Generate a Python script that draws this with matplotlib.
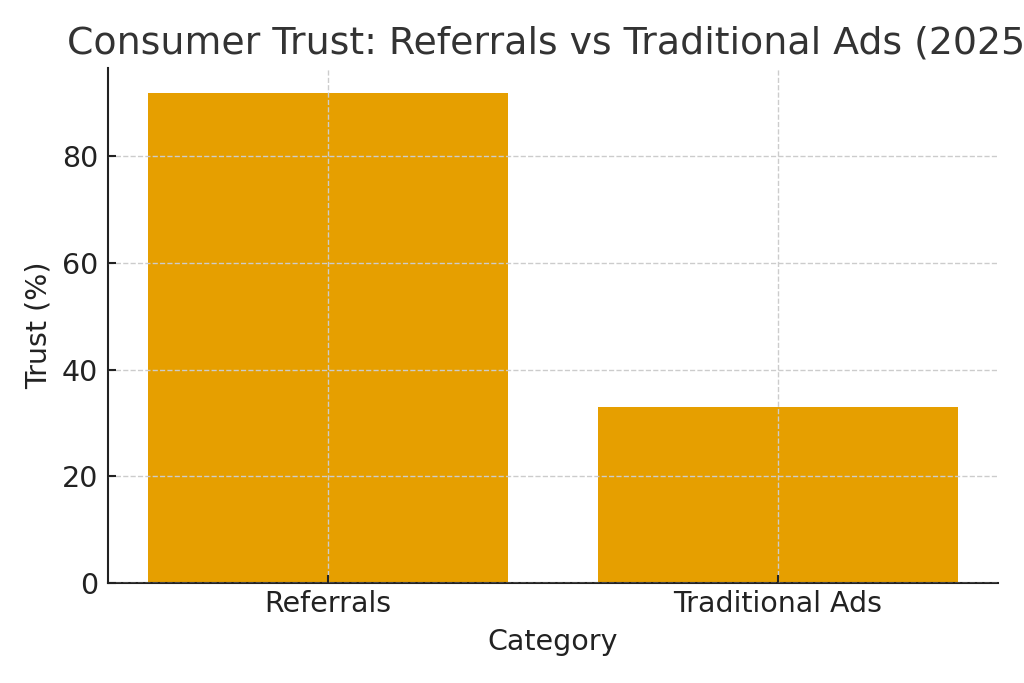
import matplotlib
matplotlib.use("Agg")
import matplotlib.pyplot as plt

categories = ["Referrals", "Traditional Ads"]
trust = [92, 33]
title = "Consumer Trust: Referrals vs Traditional Ads (2025)"

plt.rcParams['font.family'] = ['DejaVu Sans']
fig = plt.figure(figsize=(10.24, 6.83), dpi=100)
ax = fig.add_axes([108/1024, 1-583/683, (998-108)/1024, (583-68)/683])

ax.bar(categories, trust, width=0.8, color="#E69F00", zorder=1)
ax.grid(True, linestyle="--", color="#cccccc", linewidth=1.0, zorder=2)
ax.set_axisbelow(False)
for s in ["top", "right"]:
    ax.spines[s].set_visible(False)
for s in ["left", "bottom"]:
    ax.spines[s].set_linewidth(1.5)
    ax.spines[s].set_color("#222222")
ax.tick_params(axis="both", direction="in", labelsize=20.5, length=5.8,
               width=1.5, colors="#222222", pad=7)
ax.tick_params(axis="x", pad=5)
ax.set_xlabel("Category", fontsize=20.5, color="#222222", labelpad=7)
ax.set_ylabel("Trust (%)", fontsize=20.5, color="#222222", labelpad=7)
ax.set_title(title, fontsize=27.3, color="#333333", pad=10.5)
ax.set_yticks([0, 20, 40, 60, 80])

fig.savefig("out.png", dpi=100)
